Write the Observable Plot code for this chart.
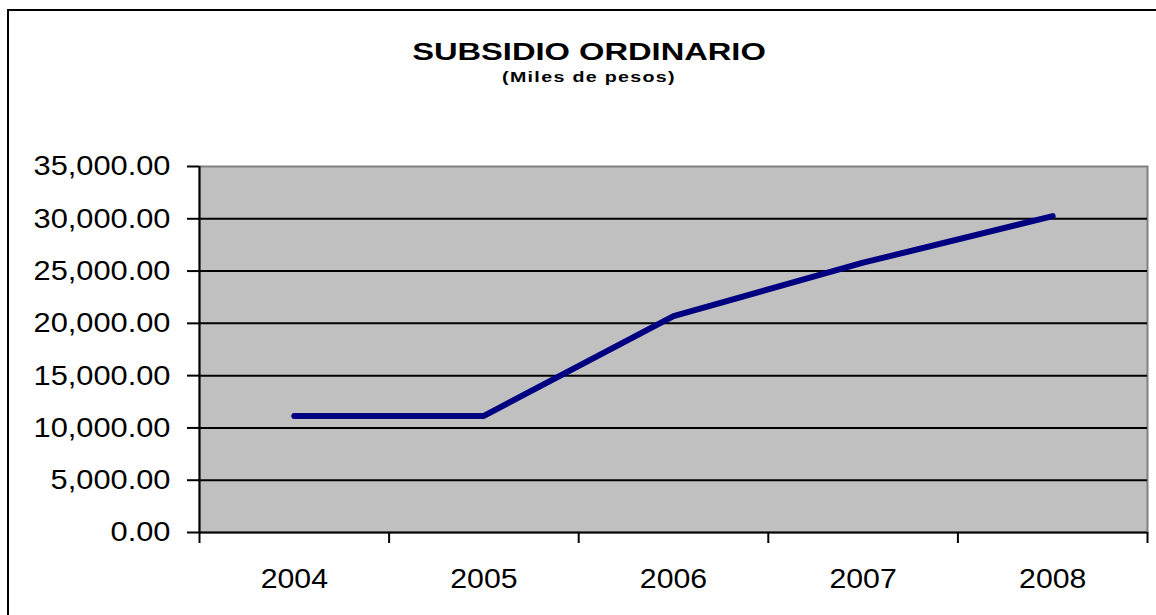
<!DOCTYPE html>
<html>
<head>
<meta charset="utf-8">
<script src="https://cdn.jsdelivr.net/npm/d3@7"></script>
<script src="https://cdn.jsdelivr.net/npm/@observablehq/plot@0.6"></script>
<style>
  html, body { margin: 0; padding: 0; background: #fff; overflow: hidden; width: 1156px; height: 615px; }
  #frame { position: absolute; left: 7px; top: 9px; width: 1300px; height: 800px; border-left: 2px solid #000; border-top: 2px solid #000; box-sizing: border-box; }
  .t { position: absolute; left: 0; width: 1178px; text-align: center; font-family: "Liberation Sans", Arial, sans-serif; font-weight: bold; color: #000; white-space: nowrap; transform-origin: 589px 0; }
  #title { top: 40px; font-size: 24px; line-height: 24px; transform: scaleX(1.36); }
  #subtitle { top: 69px; font-size: 15px; line-height: 15px; letter-spacing: 1px; transform: scaleX(1.31); }
  #chart { position: absolute; left: 0; top: 140px; }
</style>
</head>
<body>
<div id="frame"></div>
<div id="title" class="t">SUBSIDIO ORDINARIO</div>
<div id="subtitle" class="t">(Miles de pesos)</div>
<div id="chart"></div>
<script>
const years = [2004, 2005, 2006, 2007, 2008];
const values = [11150, 11150, 20700, 25800, 30250];
const yTicks = [0, 5000, 10000, 15000, 20000, 25000, 30000, 35000];
const gridLines = [5000, 10000, 15000, 20000, 25000, 30000];

const data = years.map((y, i) => ({year: y, value: values[i]}));
const bounds = years.map(y => y - 0.5).concat([years[years.length - 1] + 0.5]);

const chart = Plot.plot({
  width: 1156,
  height: 475,
  marginTop: 26,
  marginBottom: 83,
  marginLeft: 199,
  marginRight: 9,
  style: {fontFamily: "'Liberation Sans', Arial, sans-serif", fontSize: "28px", color: "#000", background: "transparent", overflow: "visible"},
  x: {domain: [bounds[0], bounds[bounds.length - 1]], label: null},
  y: {domain: [0, 35000], label: null},
  marks: [
    Plot.frame({fill: "#c0c0c0", stroke: "#808080", strokeWidth: 2}),
    Plot.ruleY(gridLines, {stroke: "#000", strokeWidth: 2}),
    Plot.ruleY([0], {stroke: "#000", strokeWidth: 2}),
    Plot.ruleX([bounds[0]], {stroke: "#000", strokeWidth: 2}),
    Plot.axisY({ticks: yTicks, tickFormat: d3.format(",.2f"), tickSize: 12, tickPadding: 17, stroke: "#000", strokeWidth: 2, fill: "#000", label: null}),
    Plot.axisX({ticks: bounds, tickFormat: () => "", tickSize: 11, stroke: "#000", strokeWidth: 2, label: null}),
    Plot.axisX({ticks: years, tickFormat: d => String(d), tickSize: 0, tickPadding: 36, fill: "#000", label: null}),
    Plot.line(data, {x: "year", y: "value", stroke: "#000080", strokeWidth: 6, strokeLinecap: "round", strokeLinejoin: "round"})
  ]
});
document.getElementById("chart").appendChild(chart);

// widen label glyphs slightly, as in the reference
function stretch(sel, k) {
  chart.querySelectorAll(sel).forEach(t => {
    const w = t.getComputedTextLength();
    if (w > 0) {
      t.setAttribute("textLength", (w * k).toFixed(1));
      t.setAttribute("lengthAdjust", "spacingAndGlyphs");
    }
  });
}
stretch("g[aria-label='y-axis tick label'] text", 1.1);
stretch("g[aria-label='x-axis tick label'] text", 1.08);
</script>
</body>
</html>
